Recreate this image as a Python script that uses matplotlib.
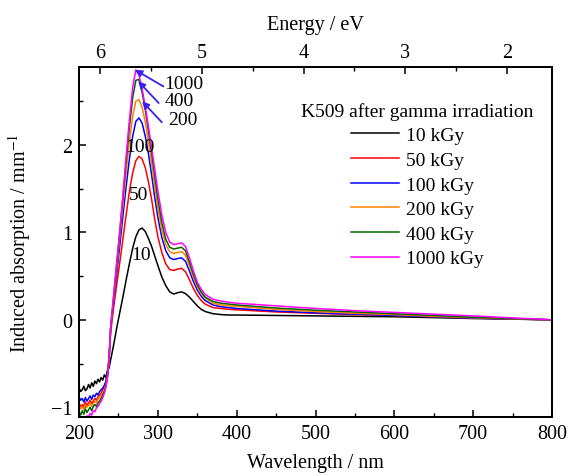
import matplotlib
matplotlib.use("Agg")
import matplotlib.pyplot as plt
from matplotlib.ticker import MultipleLocator

plt.rcParams.update({
    "font.family": "Liberation Serif",
    "mathtext.fontset": "stix",
    "font.size": 14,
    "xtick.direction": "in",
    "ytick.direction": "in",
    "axes.linewidth": 1.3,
})

# wavelength grid (nm)
wavelength = [200, 202, 204, 206, 208, 210, 212, 214, 216, 218,
              220, 222, 224, 226, 228, 230, 232, 234, 236, 238,
              240, 244, 248, 252, 256, 260, 264, 268, 272, 276,
              280, 284, 288, 292, 296, 300, 305, 310, 315, 320,
              325, 330, 335, 340, 345, 350, 355, 360, 370, 380,
              390, 400, 450, 500, 550, 600, 650, 700, 750, 800]

a_10 = [-0.78, -0.82, -0.80, -0.76, -0.81, -0.79, -0.74, -0.78, -0.72, -0.76,
        -0.70, -0.73, -0.68, -0.71, -0.66, -0.69, -0.63, -0.66, -0.58, -0.55,
        -0.46, -0.28, -0.08, 0.10, 0.28, 0.47, 0.65, 0.82, 0.95, 1.03,
        1.05, 1.01, 0.93, 0.84, 0.73, 0.62, 0.49, 0.39, 0.32, 0.295,
        0.31, 0.32, 0.30, 0.26, 0.21, 0.16, 0.12, 0.095, 0.07, 0.06,
        0.055, 0.055, 0.05, 0.045, 0.04, 0.035, 0.025, 0.015, 0.008, 0.0]

a_50 = [-0.95, -1.00, -0.97, -0.99, -0.94, -0.98, -0.95, -0.92, -0.96, -0.93,
        -0.90, -0.92, -0.88, -0.86, -0.84, -0.80, -0.77, -0.72, -0.63, -0.45,
        -0.15, 0.15, 0.42, 0.68, 0.95, 1.22, 1.48, 1.68, 1.82, 1.87,
        1.84, 1.74, 1.58, 1.38, 1.15, 0.95, 0.77, 0.64, 0.575, 0.565,
        0.58, 0.59, 0.55, 0.46, 0.36, 0.28, 0.22, 0.18, 0.14, 0.13,
        0.12, 0.115, 0.09, 0.075, 0.06, 0.05, 0.035, 0.02, 0.01, 0.0]

a_100 = [-0.88, -0.92, -0.90, -0.94, -0.89, -0.93, -0.90, -0.87, -0.91, -0.86,
         -0.88, -0.84, -0.86, -0.82, -0.80, -0.78, -0.75, -0.70, -0.61, -0.43,
         -0.10, 0.22, 0.55, 0.88, 1.22, 1.55, 1.85, 2.10, 2.27, 2.31,
         2.25, 2.10, 1.90, 1.66, 1.40, 1.17, 0.94, 0.79, 0.71, 0.69,
         0.70, 0.71, 0.67, 0.56, 0.44, 0.34, 0.27, 0.22, 0.17, 0.15,
         0.14, 0.13, 0.10, 0.08, 0.065, 0.05, 0.035, 0.02, 0.01, 0.0]

a_200 = [-0.98, -1.02, -0.99, -1.03, -0.97, -1.00, -0.98, -0.95, -0.99, -0.96,
         -0.93, -0.95, -0.91, -0.89, -0.87, -0.84, -0.80, -0.74, -0.64, -0.46,
         -0.12, 0.25, 0.62, 0.98, 1.35, 1.72, 2.05, 2.33, 2.50, 2.52,
         2.43, 2.26, 2.04, 1.80, 1.53, 1.28, 1.03, 0.86, 0.78, 0.76,
         0.77, 0.78, 0.74, 0.62, 0.49, 0.38, 0.30, 0.25, 0.19, 0.17,
         0.16, 0.155, 0.12, 0.095, 0.075, 0.06, 0.04, 0.025, 0.012, 0.0]

a_400 = [-1.05, -1.09, -1.04, -1.08, -1.02, -1.06, -1.03, -1.00, -1.04, -0.99,
         -0.97, -0.99, -0.95, -0.93, -0.90, -0.86, -0.82, -0.76, -0.65, -0.47,
         -0.10, 0.28, 0.66, 1.04, 1.44, 1.84, 2.22, 2.54, 2.74, 2.75,
         2.60, 2.40, 2.16, 1.91, 1.64, 1.38, 1.11, 0.92, 0.83, 0.81,
         0.82, 0.83, 0.79, 0.66, 0.52, 0.40, 0.32, 0.26, 0.21, 0.19,
         0.18, 0.17, 0.135, 0.11, 0.09, 0.07, 0.05, 0.03, 0.015, 0.0]

a_1000 = [-1.15, -1.18, -1.16, -1.14, -1.12, -1.10, -1.11, -1.07, -1.09, -1.04,
          -1.05, -1.01, -0.99, -0.96, -0.93, -0.89, -0.84, -0.77, -0.66, -0.46,
          -0.08, 0.30, 0.68, 1.06, 1.47, 1.90, 2.30, 2.66, 2.86, 2.80,
          2.64, 2.44, 2.21, 1.97, 1.72, 1.47, 1.20, 1.00, 0.89, 0.86,
          0.87, 0.88, 0.84, 0.71, 0.56, 0.43, 0.35, 0.29, 0.235, 0.215,
          0.20, 0.19, 0.16, 0.13, 0.105, 0.085, 0.065, 0.045, 0.022, 0.0]

series = [a_10, a_50, a_100, a_200, a_400, a_1000]
labels = ["10 kGy", "50 kGy", "100 kGy", "200 kGy", "400 kGy", "1000 kGy"]
colors = ["#000000", "#ff0000", "#0000ff", "#ff8000", "#006400", "#ff00ff"]

energy_ticks = [6, 5, 4, 3, 2]

fig = plt.figure(figsize=(5.69, 4.77), dpi=100)
ax = fig.add_axes([0.139, 0.124, 0.831, 0.733])

for y, lab, c in zip(series, labels, colors):
    ax.plot(wavelength, y, color=c, lw=1.1, label=lab)

ax.set_xlim(200, 800)
ax.set_ylim(-1.11, 2.89)
ax.xaxis.set_major_locator(MultipleLocator(100))
ax.xaxis.set_minor_locator(MultipleLocator(50))
ax.yaxis.set_major_locator(MultipleLocator(1))
ax.yaxis.set_minor_locator(MultipleLocator(0.5))
ax.tick_params(which="major", length=5, width=1.1, top=False, right=False,
               labelsize=14.5, pad=5)
ax.tick_params(which="minor", length=3, width=1.0, top=False, right=False)
ax.set_xlabel("Wavelength / nm", fontsize=14.5, labelpad=7)
ax.set_ylabel("Induced absorption / mm$^{-1}$", fontsize=14.5, labelpad=13)

# linear energy scale on top
ax2 = ax.twiny()
ax2.set_xlim(6.206, 1.558)
ax2.set_xticks(energy_ticks)
ax2.xaxis.set_minor_locator(MultipleLocator(0.5))
ax2.tick_params(which="major", length=5, width=1.1, labelsize=14.5, pad=4)
ax2.tick_params(which="minor", length=3, width=1.0)
ax2.set_xlabel("Energy / eV", fontsize=14.5, labelpad=10)

# curve labels
ax.text(277, 1.98, "100", ha="center", va="center")
ax.text(276, 1.43, "50", ha="center", va="center")
ax.text(279, 0.75, "10", ha="center", va="center")

arrow_c = "#3a1ff0"
for txt, tx, ty, hx, hy in [("1000", 333, 2.70, 271, 2.86),
                            ("400", 327, 2.51, 275, 2.73),
                            ("200", 331, 2.29, 280, 2.50)]:
    ax.annotate("", xy=(hx, hy), xytext=(tx - 26, ty - 0.03),
                arrowprops=dict(arrowstyle="-|>", color=arrow_c, lw=1.3,
                                mutation_scale=10, shrinkA=0, shrinkB=0))
    ax.text(tx, ty, txt, ha="center", va="center")

ax.legend(loc="upper right", bbox_to_anchor=(0.99, 0.94), frameon=False,
          title="K509 after gamma irradiation", handlelength=2.5,
          handletextpad=0.35, labelspacing=0.36, borderpad=0.2,
          fontsize=14, title_fontsize=14)

fig.savefig("out.png", dpi=100)
